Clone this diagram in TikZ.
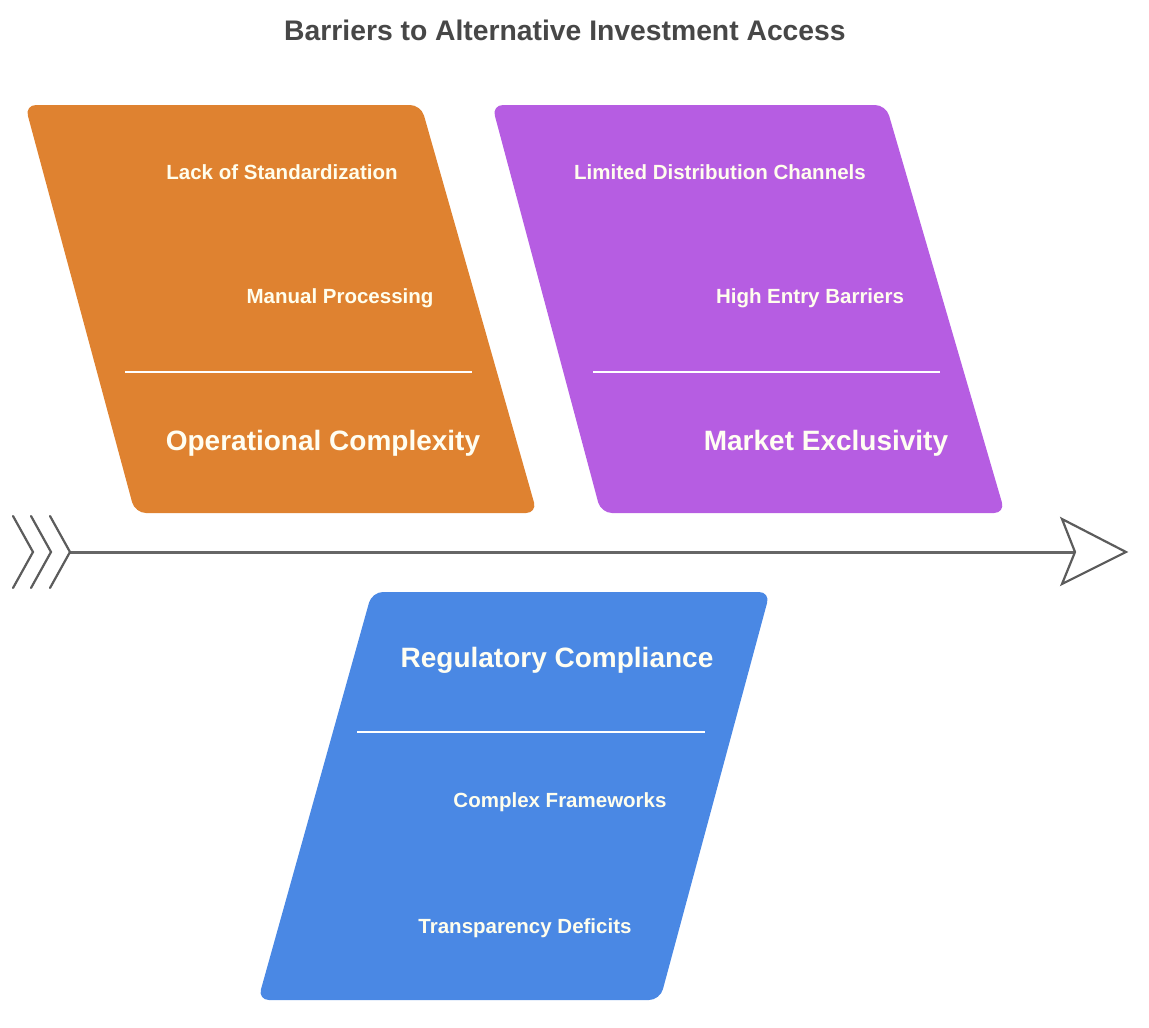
\documentclass[tikz,border=0pt]{standalone}
\usepackage{fontspec}
\setmainfont{Liberation Sans}
\begin{document}
\definecolor{opOrange}{HTML}{DF8230}
\definecolor{mkPurple}{HTML}{B65DE2}
\definecolor{rgBlue}{HTML}{4A88E4}
\definecolor{titleGray}{HTML}{474747}
\definecolor{spineGray}{HTML}{666666}
\begin{tikzpicture}[x=1pt,y=-1pt,
  panel/.style={rounded corners=11pt},
  divider/.style={white,line width=2pt},
  item/.style={text=white!93!yellow,font=\bfseries\fontsize{20.5}{24}\selectfont,inner sep=0pt},
  heading/.style={text=white!95!yellow,font=\bfseries\fontsize{28}{32}\selectfont,inner sep=0pt},
  spine/.style={spineGray,line width=3pt},
  chev/.style={draw=spineGray!90!black,line width=2.2pt,line cap=round,line join=miter}]
\useasboundingbox (0,0) rectangle (1149,1028);

% title
\node[text=titleGray,font=\bfseries\fontsize{28.3}{32}\selectfont,inner sep=0pt] (title) at (565,30) {Barriers to Alternative Investment Access};

% panels
\fill[opOrange,panel] (25,105) -- (421,105) -- (537,513) -- (135,513) -- cycle;
\fill[mkPurple,panel] (492,105) -- (886,105) -- (1005,513) -- (601,513) -- cycle;
\fill[rgBlue,panel] (372,592) -- (770,592) -- (660,1000) -- (258,1000) -- cycle;

% dividers
\draw[divider] (125,372) -- (472,372);
\draw[divider] (593,372) -- (940,372);
\draw[divider] (357,732) -- (705,732);

% operational complexity
\node[item] (opA) at (282,172) {Lack of Standardization};
\node[item] (opB) at (340,298) {Manual Processing};
\node[heading] (opH) at (323,443) {Operational Complexity};

% market exclusivity
\node[item] (mkA) at (720,172) {Limited Distribution Channels};
\node[item] (mkB) at (810,298) {High Entry Barriers};
\node[heading] (mkH) at (826,443) {Market Exclusivity};

% regulatory compliance
\node[heading] (rgH) at (557,660) {Regulatory Compliance};
\node[item] (rgA) at (560,802) {Complex Frameworks};
\node[item] (rgB) at (525,928) {Transparency Deficits};

% spine with feathered tail and open head
\coordinate (tail) at (70,552);
\coordinate (notch) at (1075,552);
\draw[spine] (tail) -- (notch);
\foreach \xa in {33,51,70}{
  \draw[chev] (\xa-20,516) -- (\xa,552) -- (\xa-20,588);
}
\draw[chev,fill=white] (1062,519) -- (1126,552) -- (1062,584) -- (notch) -- cycle;
\end{tikzpicture}
\end{document}
